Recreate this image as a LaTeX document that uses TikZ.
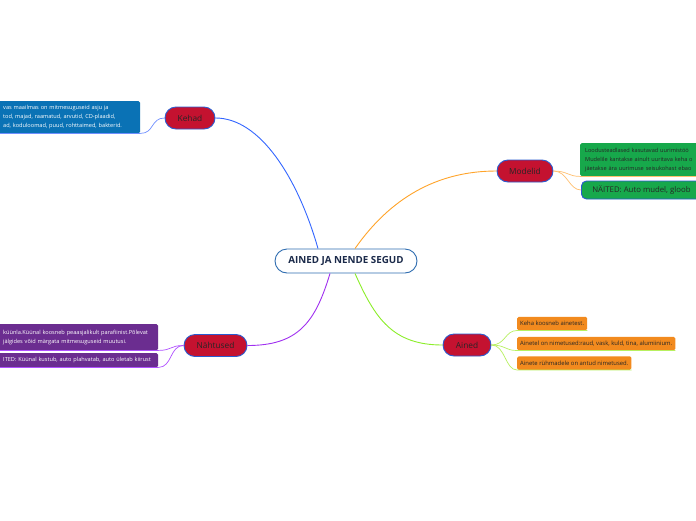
\documentclass[tikz,border=0pt]{standalone}
\usepackage{fontspec}
\setmainfont{Open Sans}
\usetikzlibrary{calc}
\definecolor{mainred}{HTML}{C41230}
\definecolor{mainborder}{HTML}{2A5BD0}
\definecolor{cborder}{HTML}{2F6DB0}
\definecolor{ctext}{HTML}{1B2A4A}
\definecolor{cblue}{HTML}{3366FF}
\definecolor{corange}{HTML}{FFA42A}
\definecolor{cpurple}{HTML}{A030F0}
\definecolor{cgreen}{HTML}{8CEE2A}
\definecolor{kbox}{HTML}{0A72B5}
\definecolor{kline}{HTML}{6F8FFF}
\definecolor{mbox}{HTML}{17A84B}
\definecolor{mline}{HTML}{FFC070}
\definecolor{nbox}{HTML}{6B2D90}
\definecolor{nline}{HTML}{B050FF}
\definecolor{abox}{HTML}{F28A1E}
\definecolor{aline}{HTML}{B8F060}
\tikzset{
  central/.style={draw=cborder, line width=0.9pt, fill=white, rounded corners=12pt,
    minimum width=142pt, minimum height=24pt, inner sep=0pt, text=ctext,
    font=\fontsize{9.8}{11}\selectfont\bfseries},
  topic/.style={draw=mainborder, line width=0.9pt, fill=mainred, rounded corners=11pt,
    minimum height=22pt, inner sep=0pt, text=black!85,
    font=\fontsize{8.3}{9}\selectfont},
  note/.style={rounded corners=1.5pt, inner sep=0pt, text=white, align=left,
    font=\fontsize{5.6}{9}\selectfont},
  anote/.style={fill=abox, rounded corners=1.5pt, inner xsep=3pt, inner ysep=0pt,
    minimum height=13.5pt, text=black!85, font=\fontsize{5.9}{7}\selectfont, anchor=south west},
  branch/.style={line width=0.9pt},
  twig/.style={line width=0.7pt}
}
\begin{document}
\begin{tikzpicture}[x=1pt,y=-1pt]
\useasboundingbox (0,0) rectangle (696,520);
\clip (0,0) rectangle (696,520);
\fill[white] (0,0) rectangle (696,520);

% central and topics
\node[central] (c) at (346,261) {AINED JA NENDE SEGUD};
\node[topic, minimum width=50pt] (kehad) at (190,118) {Kehad};
\node[topic, minimum width=56pt] (modelid) at (525,171) {Modelid};
\node[topic, minimum width=63pt] (nahtused) at (215.5,345.5) {Nähtused};
\node[topic, minimum width=48pt] (ained) at (467,345) {Ained};

% Kehad note
\node[note, fill=kbox, anchor=north west, minimum width=146pt, minimum height=32pt,
  text width=140pt] (kb) at (-6,101) {\hspace*{6pt}vas maailmas on mitmesuguseid asju ja\\
\hspace*{6pt}tod, majad, raamatud, arvutid, CD-plaadid,\\
\hspace*{6pt}ad, koduloomad, puud, rohttaimed, bakterid.};

% Modelid notes
\node[note, fill=mbox, anchor=north west, minimum width=130pt, minimum height=33pt,
  text width=126pt, text=black!85] (m1) at (580,143) {\hspace*{3pt}Loodusteadlased kasutavad uurimistöö\\
\hspace*{3pt}Mudelile kantakse ainult uuritava keha o\\
\hspace*{3pt}jäetakse ära uurimuse seisukohast ebao};
\node[draw=mainborder, line width=0.9pt, fill=mbox, rounded corners=5pt, anchor=west,
  minimum width=140pt, minimum height=18pt, inner sep=0pt, text=black!85,
  font=\fontsize{7.8}{9}\selectfont] (m2) at (581,190) {\hspace*{10pt}NÄITED: Auto mudel, gloob\hspace*{30pt}};

% Nähtused notes
\node[note, fill=nbox, anchor=north west, minimum width=164pt, minimum height=26pt,
  text width=160pt] (n1) at (-6,324) {\hspace*{7pt}küünla.Küünal koosneb peaasjalikult parafiinist.Põlevat\\
\hspace*{7pt}jälgides võid märgata mitmesuguseid muutusi.};
\node[note, fill=nbox, anchor=north west, minimum width=164pt, minimum height=14pt,
  text width=160pt] (n2) at (-6,353) {\hspace*{7pt}ITED: Küünal kustub, auto plahvatab, auto ületab kiirust};

% Ained notes
\node[anote] (a1) at (517,330.5) {Keha koosneb ainetest.};
\node[anote] (a2) at (517,350.5) {Ainetel on nimetused:raud, vask, kuld, tina, alumiinium.};
\node[anote] (a3) at (517,370) {Ainete rühmadele on antud nimetused.};

% main branches
\draw[branch, cblue] ($(c.north)+(-28,0)$) .. controls +(-20,-70) and +(45,0) .. (kehad.east);
\draw[branch, corange] ($(c.north)+(9,0)$) .. controls +(35,-50) and +(-60,0) .. (modelid.west);
\draw[branch, cpurple] ($(c.south)+(-16,0)$) .. controls +(-15,50) and +(50,0) .. (nahtused.east);
\draw[branch, cgreen] ($(c.south)+(9,0)$) .. controls +(20,45) and +(-50,0) .. (ained.west);

% twigs
\draw[twig, kline] (kehad.west) .. controls +(-14,0) and +(14,0) .. (kb.south east) -- (kb.south west);
\draw[twig, mline] (modelid.east) .. controls +(14,0) and +(-12,0) .. (m1.south west) -- (m1.south east);
\draw[twig, mline] (modelid.east) .. controls +(14,0) and +(-12,0) .. (m2.west);
\draw[twig, nline] (nahtused.west) .. controls +(-14,0) and +(14,0) .. (n1.south east) -- (n1.south west);
\draw[twig, nline] (nahtused.west) .. controls +(-14,0) and +(14,0) .. (n2.south east) -- (n2.south west);
\draw[twig, aline] (ained.east) .. controls +(14,0) and +(-12,0) .. (a1.south west) -- (a1.south east);
\draw[twig, aline] (ained.east) .. controls +(14,0) and +(-12,0) .. (a2.south west) -- (a2.south east);
\draw[twig, aline] (ained.east) .. controls +(14,0) and +(-12,0) .. (a3.south west) -- (a3.south east);
\end{tikzpicture}
\end{document}
